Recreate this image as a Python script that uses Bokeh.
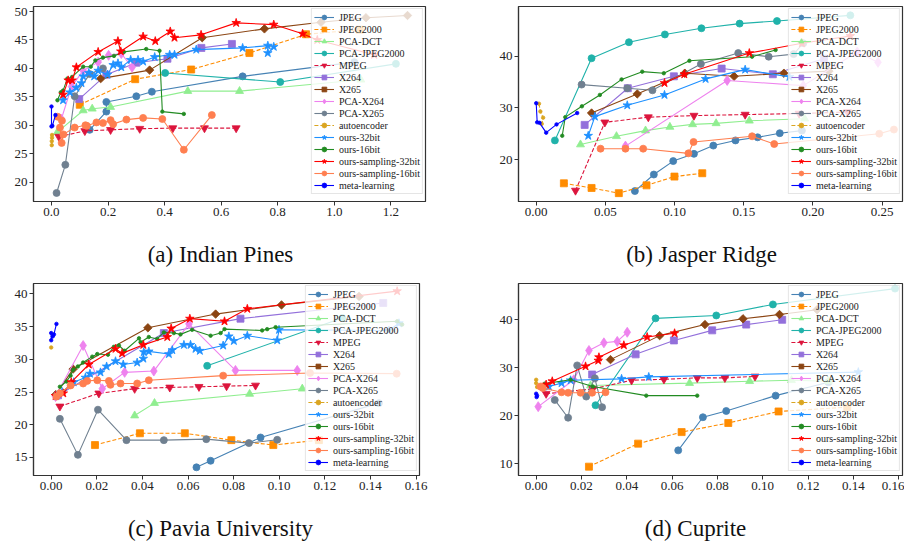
import math
from bokeh.plotting import figure
from bokeh.layouts import column, row
from bokeh.models import (FixedTicker, PrintfTickFormatter, Legend, LegendItem, Range1d, Div)
from bokeh.embed import file_html
from bokeh.resources import INLINE

# ---------------- series names & tick labels ----------------
SERIES = ["JPEG", "JPEG2000", "PCA-DCT", "PCA-JPEG2000", "MPEG", "X264", "X265",
          "PCA-X264", "PCA-X265", "autoencoder", "ours-32bit", "ours-16bit",
          "ours-sampling-32bit", "ours-sampling-16bit", "meta-learning"]

IP_XTICKS = [0.0, 0.2, 0.4, 0.6, 0.8, 1.0, 1.2]
IP_YTICKS = [20, 25, 30, 35, 40, 45, 50]
JR_XTICKS = [0.00, 0.05, 0.10, 0.15, 0.20, 0.25]
JR_YTICKS = [20, 30, 40]
PU_XTICKS = [0.00, 0.02, 0.04, 0.06, 0.08, 0.10, 0.12, 0.14, 0.16]
PU_YTICKS = [15, 20, 25, 30, 35, 40]
CU_XTICKS = [0.00, 0.02, 0.04, 0.06, 0.08, 0.10, 0.12, 0.14, 0.16]
CU_YTICKS = [10, 20, 30, 40]

# ---------------- (a) Indian Pines ----------------
IP_JPEG_X = [0.135, 0.194, 0.194, 0.300, 0.355, 0.676, 1.071]
IP_JPEG_Y = [29.2, 32.4, 34.1, 35.1, 35.9, 38.6, 41.1]
IP_JPEG2000_X = [0.100, 0.296, 0.494, 0.700, 0.900, 1.090]
IP_JPEG2000_Y = [33.6, 38.1, 39.8, 42.7, 46.0, 46.8]
IP_PCADCT_X = [0.021, 0.112, 0.144, 0.209, 0.482, 0.665, 1.094]
IP_PCADCT_Y = [28.8, 32.6, 32.9, 33.2, 36.0, 36.0, 38.0]
IP_PCAJ2K_X = [0.402, 0.809, 1.218]
IP_PCAJ2K_Y = [39.2, 37.6, 40.8]
IP_MPEG_X = [0.026, 0.118, 0.209, 0.312, 0.429, 0.541, 0.653]
IP_MPEG_Y = [28.0, 29.0, 29.2, 29.4, 29.5, 29.5, 29.5]
IP_X264_X = [0.098, 0.194, 0.300, 0.410, 0.530, 0.638]
IP_X264_Y = [34.6, 38.9, 41.0, 41.7, 43.6, 44.3]
IP_X265_X = [0.174, 0.347, 0.533, 0.753, 0.953, 1.112, 1.259]
IP_X265_Y = [38.2, 39.7, 45.4, 46.95, 48.1, 48.9, 49.3]
IP_PCAX264_X = [0.035, 0.071, 0.112, 0.165, 0.202, 0.247, 0.285]
IP_PCAX264_Y = [31.1, 36.8, 39.6, 41.1, 42.3, 42.6, 40.2]
IP_PCAX265_X = [0.018, 0.049, 0.082, 0.135, 0.182]
IP_PCAX265_Y = [18.1, 23.05, 35.1, 39.0, 40.0]
IP_AE_X = [0.001, 0.001, 0.002, 0.002]
IP_AE_Y = [26.5, 27.2, 27.8, 28.3]
IP_O32_X = [0.041, 0.065, 0.088, 0.106, 0.112, 0.132, 0.151, 0.165, 0.198, 0.218, 0.235, 0.247,
            0.280, 0.306, 0.324, 0.365, 0.418, 0.435, 0.512, 0.676, 0.765, 0.765, 0.786]
IP_O32_Y = [34.4, 35.8, 36.6, 37.4, 38.6, 39.2, 38.6, 39.6, 38.9, 40.6, 40.9, 40.2,
            41.5, 41.5, 41.2, 42.0, 42.4, 42.4, 43.3, 43.6, 44.0, 42.7, 43.8]
IP_O16_X = [0.021, 0.033, 0.041, 0.056, 0.073, 0.112, 0.139, 0.155, 0.182, 0.221, 0.256, 0.335,
            0.382, 0.392, 0.468]
IP_O16_Y = [34.4, 35.8, 36.1, 38.2, 38.5, 40.3, 40.3, 41.4, 41.9, 42.2, 42.9, 43.4,
            43.1, 32.4, 32.0]
IP_OS32_X = [0.041, 0.059, 0.073, 0.088, 0.165, 0.235, 0.245, 0.324, 0.367, 0.420, 0.435, 0.529,
             0.653, 0.786, 0.888, 0.940, 1.141]
IP_OS32_Y = [35.4, 37.9, 37.9, 40.2, 42.9, 44.8, 43.0, 45.6, 44.8, 46.5, 45.4, 45.9,
             48.0, 47.7, 46.1, 45.0, 42.4]
IP_OS16_X = [0.022, 0.037, 0.030, 0.036, 0.042, 0.082, 0.120, 0.125, 0.159, 0.182, 0.209, 0.218,
             0.265, 0.324, 0.392, 0.468, 0.567]
IP_OS16_Y = [31.5, 30.8, 29.6, 26.9, 28.4, 29.6, 30.0, 29.9, 30.5, 30.4, 30.9, 30.2,
             31.0, 31.3, 31.1, 25.7, 31.8]
IP_META_X = [0.000, 0.000, 0.003, 0.014]
IP_META_Y = [33.3, 29.8, 29.9, 31.8]

# ---------------- (b) Jasper Ridge ----------------
JR_JPEG_X = [0.0713, 0.085, 0.099, 0.114, 0.128, 0.144, 0.160, 0.176, 0.192]
JR_JPEG_Y = [13.9, 17.1, 19.7, 21.1, 22.7, 23.7, 24.3, 25.1, 25.6]
JR_JPEG2000_X = [0.020, 0.040, 0.0597, 0.0797, 0.0999, 0.120]
JR_JPEG2000_Y = [15.4, 14.5, 13.5, 15.0, 16.7, 17.35]
JR_PCADCT_X = [0.032, 0.058, 0.079, 0.0966, 0.113, 0.130, 0.154, 0.194]
JR_PCADCT_Y = [22.9, 24.5, 25.6, 26.3, 26.8, 27.0, 27.5, 27.9]
JR_PCAJ2K_X = [0.0135, 0.040, 0.067, 0.093, 0.1194, 0.147, 0.174, 0.227]
JR_PCAJ2K_Y = [23.7, 39.6, 42.7, 44.2, 45.4, 46.3, 46.8, 47.9]
JR_MPEG_X = [0.0284, 0.0496, 0.081, 0.114, 0.151, 0.190, 0.225]
JR_MPEG_Y = [14.0, 27.2, 28.2, 28.5, 28.7, 28.9, 29.2]
JR_X264_X = [0.035, 0.0662, 0.0995, 0.134, 0.171, 0.208]
JR_X264_Y = [26.7, 33.8, 36.1, 37.6, 36.5, 39.5]
JR_X265_X = [0.040, 0.073, 0.1074, 0.143, 0.179, 0.2115]
JR_X265_Y = [29.0, 32.7, 36.7, 36.1, 36.7, 37.1]
JR_PCAX264_X = [0.0645, 0.138, 0.193, 0.232, 0.247]
JR_PCAX264_Y = [22.6, 35.3, 34.3, 40.8, 38.8]
JR_PCAX265_X = [0.0328, 0.0658, 0.084, 0.119, 0.146, 0.168, 0.186, 0.193]
JR_PCAX265_Y = [34.5, 33.8, 33.4, 38.5, 40.6, 39.9, 40.4, 42.5]
JR_AE_X = [0.002, 0.003, 0.005, 0.004]
JR_AE_Y = [30.8, 29.3, 28.1, 26.9]
JR_O32_X = [0.0376, 0.0424, 0.0658, 0.0927, 0.1224, 0.151, 0.183]
JR_O32_Y = [24.6, 28.3, 30.5, 32.5, 35.6, 37.4, 36.0]
JR_O16_X = [0.0188, 0.021, 0.033, 0.046, 0.0617, 0.0766, 0.0922, 0.1107, 0.156, 0.173]
JR_O16_Y = [24.6, 28.2, 30.3, 32.5, 35.5, 37.0, 36.7, 39.1, 39.9, 41.2]
JR_OS32_X = [0.0927, 0.107, 0.154, 0.192, 0.227]
JR_OS32_Y = [34.8, 36.5, 40.6, 42.5, 43.9]
JR_OS16_X = [0.0465, 0.0645, 0.0773, 0.110, 0.1137, 0.156, 0.172, 0.2479, 0.2585]
JR_OS16_Y = [22.1, 22.1, 22.1, 21.2, 23.4, 24.5, 23.0, 25.0, 25.8]
JR_META_X = [0.000, 0.0007, 0.0024, 0.0072, 0.0147, 0.0296]
JR_META_Y = [30.9, 27.2, 27.1, 25.2, 26.8, 29.0]

# ---------------- (c) Pavia University ----------------
PU_JPEG_X = [0.0637, 0.0699, 0.0918, 0.1437]
PU_JPEG_Y = [13.5, 14.5, 18.06, 23.3]
PU_JPEG2000_X = [0.0192, 0.0389, 0.0586, 0.079, 0.0974, 0.1174]
PU_JPEG2000_Y = [16.9, 18.7, 18.7, 17.65, 16.9, 17.65]
PU_PCADCT_X = [0.0366, 0.0453, 0.087, 0.1101]
PU_PCADCT_Y = [21.4, 23.3, 24.7, 25.5]
PU_PCAJ2K_X = [0.0684, 0.1276]
PU_PCAJ2K_Y = [29.0, 36.3]
PU_MPEG_X = [0.0038, 0.0209, 0.0366, 0.052, 0.0648, 0.0769, 0.0896]
PU_MPEG_Y = [22.8, 24.8, 25.5, 25.7, 25.8, 25.9, 26.0]
PU_X264_X = [0.003, 0.0494, 0.083, 0.1456]
PU_X264_Y = [24.5, 34.0, 36.2, 38.6]
PU_X265_X = [0.002, 0.0096, 0.0424, 0.0721, 0.101, 0.135]
PU_X265_Y = [24.6, 28.5, 34.8, 36.9, 38.3, 39.6]
PU_PCAX264_X = [0.0019, 0.014, 0.0224, 0.0322, 0.045, 0.0604, 0.0808, 0.1079]
PU_PCAX264_Y = [24.3, 32.1, 25.5, 28.0, 28.2, 35.4, 28.3, 28.3]
PU_PCAX265_X = [0.0038, 0.0117, 0.0205, 0.033, 0.0494, 0.068, 0.0867, 0.0991]
PU_PCAX265_Y = [20.9, 15.4, 22.3, 17.65, 17.65, 17.8, 17.2, 17.7]
PU_AE_X = [0.0]
PU_AE_Y = [31.8]
PU_O32_X = [0.0023, 0.0048, 0.0099, 0.015, 0.017, 0.0216, 0.0243, 0.0282, 0.0316, 0.0377, 0.0404,
            0.0406, 0.0428, 0.0516, 0.0531, 0.0582, 0.0611, 0.0633, 0.0652, 0.0754, 0.0779, 0.0801,
            0.086, 0.0991, 0.0999, 0.1481, 0.1525]
PU_O32_Y = [24.4, 25.0, 26.5, 27.2, 27.8, 28.0, 28.9, 29.7, 29.2, 29.5, 30.1,
            31.1, 31.2, 30.8, 31.4, 32.2, 32.2, 31.6, 31.3, 32.1, 33.5, 32.8,
            33.6, 32.9, 34.5, 34.4, 35.5]
PU_O16_X = [0.0038, 0.0067, 0.0085, 0.0096, 0.0117, 0.014, 0.018, 0.0202, 0.0249, 0.0275, 0.0297,
            0.0322, 0.0385, 0.0392, 0.0428, 0.0465, 0.0494, 0.0538, 0.0567, 0.0618, 0.0699, 0.0743,
            0.076, 0.0925, 0.0947, 0.0984, 0.1517, 0.1539]
PU_O16_Y = [25.8, 26.6, 27.5, 28.4, 28.9, 29.5, 30.4, 30.8, 30.7, 31.9, 32.1,
            31.3, 33.2, 32.6, 33.4, 33.1, 34.1, 34.0, 33.8, 34.5, 33.6, 34.0,
            34.6, 34.4, 34.6, 34.9, 35.8, 35.3]
PU_OS32_X = [0.0019, 0.0053, 0.0088, 0.0165, 0.0282, 0.0311, 0.0404, 0.0509, 0.0526, 0.0608,
             0.076, 0.086, 0.1517]
PU_OS32_Y = [24.4, 24.8, 26.5, 29.2, 31.6, 30.9, 32.2, 33.4, 34.7, 36.2, 35.8, 37.7, 40.4]
PU_OS16_X = [0.0023, 0.0038, 0.0085, 0.014, 0.0158, 0.0202, 0.0253, 0.026, 0.0304, 0.0377,
             0.0428, 0.0754, 0.1135, 0.1515]
PU_OS16_Y = [24.3, 24.8, 26.0, 26.3, 26.7, 26.8, 26.7, 26.1, 26.3, 26.3, 26.8, 27.5, 27.9, 27.8]
PU_META_X = [0.0, 0.0, 0.0007, 0.0012, 0.0023]
PU_META_Y = [34.0, 32.9, 33.5, 33.8, 35.4]

# ---------------- (d) Cuprite ----------------
CU_JPEG_X = [0.0627, 0.0736, 0.0839, 0.1057, 0.129]
CU_JPEG_Y = [12.8, 19.7, 21.0, 24.2, 27.0]
CU_JPEG2000_X = [0.0233, 0.045, 0.0642, 0.0848, 0.107, 0.1373]
CU_JPEG2000_Y = [9.4, 14.2, 16.6, 18.5, 20.9, 21.8]
CU_PCADCT_X = [0.024, 0.0677, 0.0942, 0.1127, 0.129]
CU_PCADCT_Y = [26.3, 26.8, 27.2, 27.4, 27.2]
CU_PCAJ2K_X = [0.0262, 0.0527, 0.0795, 0.1045, 0.1584]
CU_PCAJ2K_Y = [22.2, 40.3, 40.9, 43.2, 46.5]
CU_MPEG_X = [0.0044, 0.025, 0.0421, 0.0564, 0.0711, 0.0833, 0.0966]
CU_MPEG_Y = [24.6, 25.6, 27.4, 27.6, 27.9, 27.9, 28.2]
CU_X264_X = [0.0247, 0.0439, 0.0608, 0.0777, 0.0927, 0.1086]
CU_X264_Y = [28.6, 32.8, 35.7, 37.8, 39.0, 40.0]
CU_X265_X = [0.0328, 0.0545, 0.0745, 0.0913, 0.1074, 0.124]
CU_X265_Y = [31.7, 36.7, 39.0, 40.2, 41.1, 42.1]
CU_PCAX264_X = [0.0009, 0.0166, 0.0233, 0.0299, 0.0358, 0.0402]
CU_PCAX264_Y = [21.9, 27.5, 33.6, 35.2, 35.5, 37.4]
CU_PCAX265_X = [0.0082, 0.0141, 0.0181, 0.0221, 0.0259, 0.0291]
CU_PCAX265_Y = [23.3, 19.6, 30.5, 24.0, 27.8, 21.8]
CU_AE_X = [0.0, 0.0, 0.0004]
CU_AE_Y = [27.5, 26.8, 26.0]
CU_O32_X = [0.0056, 0.0112, 0.0152, 0.0377, 0.0497, 0.1422]
CU_O32_Y = [26.1, 26.8, 27.4, 27.7, 28.1, 29.1]
CU_O16_X = [0.0038, 0.0152, 0.025, 0.0486, 0.0711]
CU_O16_Y = [26.7, 27.5, 26.1, 24.2, 24.2]
CU_OS32_X = [0.0044, 0.0071, 0.0218, 0.0274, 0.0277, 0.0387, 0.049, 0.0611]
CU_OS32_Y = [26.5, 27.2, 30.3, 31.5, 32.2, 34.7, 36.4, 37.2]
CU_OS16_X = [0.0019, 0.0029, 0.0112, 0.0141, 0.0196, 0.0247, 0.0306]
CU_OS16_Y = [26.1, 25.8, 24.9, 24.8, 24.8, 24.8, 24.9]
CU_META_X = [0.0, 0.0002, 0.0004]
CU_META_Y = [24.6, 23.9, 24.2]

IP_DATA = [(IP_JPEG_X, IP_JPEG_Y), (IP_JPEG2000_X, IP_JPEG2000_Y), (IP_PCADCT_X, IP_PCADCT_Y),
           (IP_PCAJ2K_X, IP_PCAJ2K_Y), (IP_MPEG_X, IP_MPEG_Y), (IP_X264_X, IP_X264_Y),
           (IP_X265_X, IP_X265_Y), (IP_PCAX264_X, IP_PCAX264_Y), (IP_PCAX265_X, IP_PCAX265_Y),
           (IP_AE_X, IP_AE_Y), (IP_O32_X, IP_O32_Y), (IP_O16_X, IP_O16_Y),
           (IP_OS32_X, IP_OS32_Y), (IP_OS16_X, IP_OS16_Y), (IP_META_X, IP_META_Y)]
JR_DATA = [(JR_JPEG_X, JR_JPEG_Y), (JR_JPEG2000_X, JR_JPEG2000_Y), (JR_PCADCT_X, JR_PCADCT_Y),
           (JR_PCAJ2K_X, JR_PCAJ2K_Y), (JR_MPEG_X, JR_MPEG_Y), (JR_X264_X, JR_X264_Y),
           (JR_X265_X, JR_X265_Y), (JR_PCAX264_X, JR_PCAX264_Y), (JR_PCAX265_X, JR_PCAX265_Y),
           (JR_AE_X, JR_AE_Y), (JR_O32_X, JR_O32_Y), (JR_O16_X, JR_O16_Y),
           (JR_OS32_X, JR_OS32_Y), (JR_OS16_X, JR_OS16_Y), (JR_META_X, JR_META_Y)]
PU_DATA = [(PU_JPEG_X, PU_JPEG_Y), (PU_JPEG2000_X, PU_JPEG2000_Y), (PU_PCADCT_X, PU_PCADCT_Y),
           (PU_PCAJ2K_X, PU_PCAJ2K_Y), (PU_MPEG_X, PU_MPEG_Y), (PU_X264_X, PU_X264_Y),
           (PU_X265_X, PU_X265_Y), (PU_PCAX264_X, PU_PCAX264_Y), (PU_PCAX265_X, PU_PCAX265_Y),
           (PU_AE_X, PU_AE_Y), (PU_O32_X, PU_O32_Y), (PU_O16_X, PU_O16_Y),
           (PU_OS32_X, PU_OS32_Y), (PU_OS16_X, PU_OS16_Y), (PU_META_X, PU_META_Y)]
CU_DATA = [(CU_JPEG_X, CU_JPEG_Y), (CU_JPEG2000_X, CU_JPEG2000_Y), (CU_PCADCT_X, CU_PCADCT_Y),
           (CU_PCAJ2K_X, CU_PCAJ2K_Y), (CU_MPEG_X, CU_MPEG_Y), (CU_X264_X, CU_X264_Y),
           (CU_X265_X, CU_X265_Y), (CU_PCAX264_X, CU_PCAX264_Y), (CU_PCAX265_X, CU_PCAX265_Y),
           (CU_AE_X, CU_AE_Y), (CU_O32_X, CU_O32_Y), (CU_O16_X, CU_O16_Y),
           (CU_OS32_X, CU_OS32_Y), (CU_OS16_X, CU_OS16_Y), (CU_META_X, CU_META_Y)]

# ---------------- styles: color, dash, marker, size, angle ----------------
STYLE = {
    "JPEG": ("#4682b4", "solid", "circle", 7, 0),
    "JPEG2000": ("#ff8c00", "4 2", "square", 7, 0),
    "PCA-DCT": ("#90ee90", "solid", "triangle", 8, 0),
    "PCA-JPEG2000": ("#20b2aa", "solid", "circle", 7, 0),
    "MPEG": ("#dc143c", "4 2", "inverted_triangle", 8, 0),
    "X264": ("#9370db", "solid", "square", 7, 0),
    "X265": ("#8b4513", "solid", "square", 6, math.pi / 4),
    "PCA-X264": ("#ee82ee", "solid", "diamond", 10, 0),
    "PCA-X265": ("#708090", "solid", "circle", 7, 0),
    "autoencoder": ("#daa520", "4 2", "circle", 3.5, 0),
    "ours-32bit": ("#1e90ff", "solid", "star", 9, 0),
    "ours-16bit": ("#228b22", "solid", "circle", 3.5, 0),
    "ours-sampling-32bit": ("#ff0000", "solid", "star", 9, 0),
    "ours-sampling-16bit": ("#ff7f50", "solid", "circle", 7, 0),
    "meta-learning": ("#0000ff", "solid", "circle", 3.5, 0),
}

FONT = "Liberation Serif"


def panel(data, xr, yr, xticks, yticks, xfmt, width, height, mbl, mbr, mbt, mbb):
    p = figure(width=width, height=height, output_backend="svg", toolbar_location=None,
               x_range=Range1d(*xr), y_range=Range1d(*yr),
               min_border_left=mbl, min_border_right=mbr,
               min_border_top=mbt, min_border_bottom=mbb)
    p.grid.visible = False
    p.outline_line_color = "#333333"
    p.outline_line_width = 1.2
    p.background_fill_color = "white"
    p.border_fill_color = "white"
    for ax in (p.xaxis[0], p.yaxis[0]):
        ax.axis_line_color = "#333333"
        ax.axis_line_width = 1.2
        ax.major_tick_line_color = "#333333"
        ax.major_tick_out = 4
        ax.major_tick_in = 0
        ax.minor_tick_line_color = None
        ax.major_label_text_font = FONT
        ax.major_label_text_font_size = "13px"
        ax.major_label_text_color = "#222222"
        ax.major_label_standoff = 2
    p.xaxis.ticker = FixedTicker(ticks=xticks)
    p.xaxis.formatter = PrintfTickFormatter(format=xfmt)
    p.yaxis.ticker = FixedTicker(ticks=yticks)
    p.yaxis.formatter = PrintfTickFormatter(format="%d")

    items = []
    for name, (xs, ys) in zip(SERIES, data):
        color, dash, marker, size, angle = STYLE[name]
        lr = p.line(xs, ys, line_color=color, line_width=1.1, line_dash=dash)
        sr = p.scatter(xs, ys, marker=marker, size=size, angle=angle,
                       fill_color=color, line_color=color, line_width=0.8)
        items.append(LegendItem(label=name, renderers=[lr, sr]))
    leg = Legend(items=items, location="top_right",
                 label_text_font=FONT, label_text_font_size="10px",
                 label_text_color="#222222", label_text_line_height=1.0,
                 glyph_width=20, glyph_height=12, label_height=12,
                 label_standoff=5, spacing=0, padding=2, margin=2,
                 border_line_color="#cccccc", border_line_width=1,
                 background_fill_color="white", background_fill_alpha=0.8)
    p.add_layout(leg)
    return p


def caption_div(text, width, height, shift, pad_top):
    html = ('<div style="width:%dpx; text-align:center; font-family:\'Liberation Serif\', serif; '
            'font-size:23px; line-height:23px; color:#111111; padding-top:%dpx; '
            'position:relative; left:%dpx; white-space:nowrap;">%s</div>'
            % (width, pad_top, shift, text))
    return Div(text=html, width=width, height=height, margin=0)


fa = panel(IP_DATA, (-0.0636, 1.3226), (16.6, 50.88), IP_XTICKS, IP_YTICKS, "%.1f",
           455, 226, 33, 30, 6, 25)
fb = panel(JR_DATA, (-0.0128, 0.2647), (11.88, 49.61), JR_XTICKS, JR_YTICKS, "%.2f",
           449, 226, 63, 2, 6, 25)
fc = panel(PU_DATA, (-0.00776, 0.1615), (12.25, 41.57), PU_XTICKS, PU_YTICKS, "%.2f",
           455, 220, 33, 36, 4, 24)
fd = panel(CU_DATA, (-0.0078, 0.1617), (7.56, 47.56), CU_XTICKS, CU_YTICKS, "%.2f",
           449, 220, 63, 2, 4, 24)
ca = caption_div("(a) Indian Pines", 455, 53, -7, 17)
cb = caption_div("(b) Jasper Ridge", 449, 53, 22, 17)
cc = caption_div("(c) Pavia University", 455, 44, -7, 18)
cd = caption_div("(d) Cuprite", 449, 44, 16, 18)

layout = column(row(fa, fb), row(ca, cb), row(fc, fd), row(cc, cd))
open("out.html", "w").write(file_html(layout, INLINE))
